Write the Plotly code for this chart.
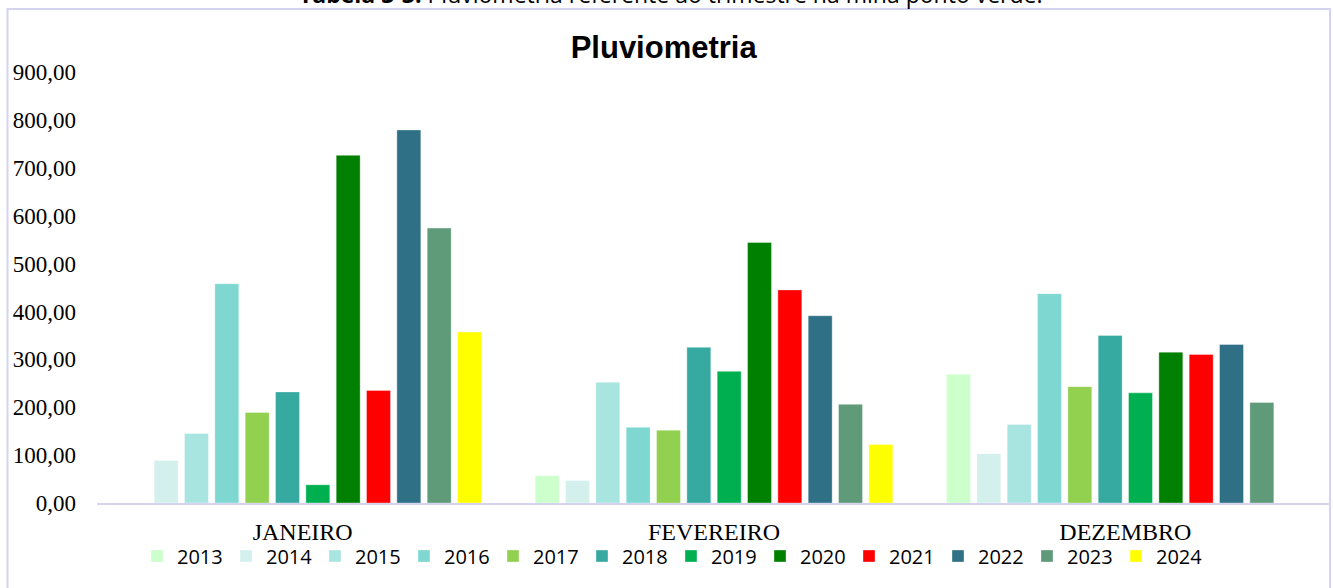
import plotly.graph_objects as go

# Pluviometria (mm) por mês e ano
meses = ['JANEIRO', 'FEVEREIRO', 'DEZEMBRO']
anos = ['2013', '2014', '2015', '2016', '2017', '2018',
        '2019', '2020', '2021', '2022', '2023', '2024']
janeiro = [None, 89, 145, 458, 189, 232, 38, 726, 235, 779, 574, 357]
fevereiro = [57, 47, 252, 158, 152, 325, 275, 544, 445, 391, 206, 122]
dezembro = [269, 103, 164, 437, 243, 350, 230, 315, 310, 331, 210, None]
y_ticks = [0, 100, 200, 300, 400, 500, 600, 700, 800, 900]

cores = ['#CCFFCC', '#D3F0ED', '#A8E4E0', '#7ED8D1', '#92D050', '#36A9A1',
         '#00B050', '#008000', '#FF0000', '#2F7087', '#5F9A79', '#FFFF00']

W, H = 1333, 588
L, R, T, B = 97, 2, 72, 85
PW, PH = W - L - R, H - T - B


def px_x(p):
    # pixel -> paper x
    return (p - L) / PW


def px_y(p):
    # pixel -> paper y
    return (H - B - p) / PH


fig = go.Figure()
for i, ano in enumerate(anos):
    fig.add_trace(go.Bar(
        x=meses,
        y=[janeiro[i], fevereiro[i], dezembro[i]],
        name=ano,
        marker=dict(color=cores[i], line=dict(width=1, color='rgba(255,255,255,0.35)')),
    ))

borda = '#D4D4F0'
fig.update_layout(
    width=W, height=H,
    margin=dict(l=L, r=R, t=T, b=B),
    paper_bgcolor='white',
    plot_bgcolor='white',
    barmode='group',
    bargap=0.115,
    bargroupgap=0.21,
    separators=',.',
    title=dict(text='<b>Pluviometria</b>', font=dict(family='Liberation Sans', size=31, color='black'),
               xref='container', x=663.7 / W, xanchor='center',
               yref='container', y=1 - 47 / H, yanchor='middle'),
    showlegend=True,
    legend=dict(orientation='h', x=px_x(137), xanchor='left', y=px_y(556), yanchor='middle',
                font=dict(family='Open Sans', size=20, color='black'),
                entrywidth=44, entrywidthmode='pixels', traceorder='normal',
                bgcolor='rgba(0,0,0,0)'),
    shapes=[
        dict(type='rect', xref='paper', yref='paper',
             x0=px_x(7.5), x1=px_x(1330), y0=px_y(620), y1=px_y(9),
             line=dict(color=borda, width=2), fillcolor='rgba(0,0,0,0)', layer='below'),
    ],
    annotations=[
        dict(text='<b>Tabela 3-3:</b> Pluviometria referente ao trimestre na mina ponto verde.',
             xref='paper', yref='paper', x=px_x(671), y=px_y(12), xanchor='center', yanchor='bottom',
             showarrow=False, font=dict(family='Open Sans', size=23, color='black')),
    ],
)
fig.update_xaxes(showline=True, linecolor=borda, linewidth=2, ticks='', showgrid=False,
                 ticklabelstandoff=6,
                 tickfont=dict(family='Liberation Serif', size=24, color='black'))
fig.update_yaxes(range=[0, 900], tickvals=y_ticks, tickformat='.2f', showgrid=False,
                 zeroline=False, ticks='', ticklabelstandoff=20,
                 tickfont=dict(family='Liberation Serif', size=23, color='black'))

fig.write_html('out.html', config={'displayModeBar': False},
               post_script="document.body.style.margin='0';")
